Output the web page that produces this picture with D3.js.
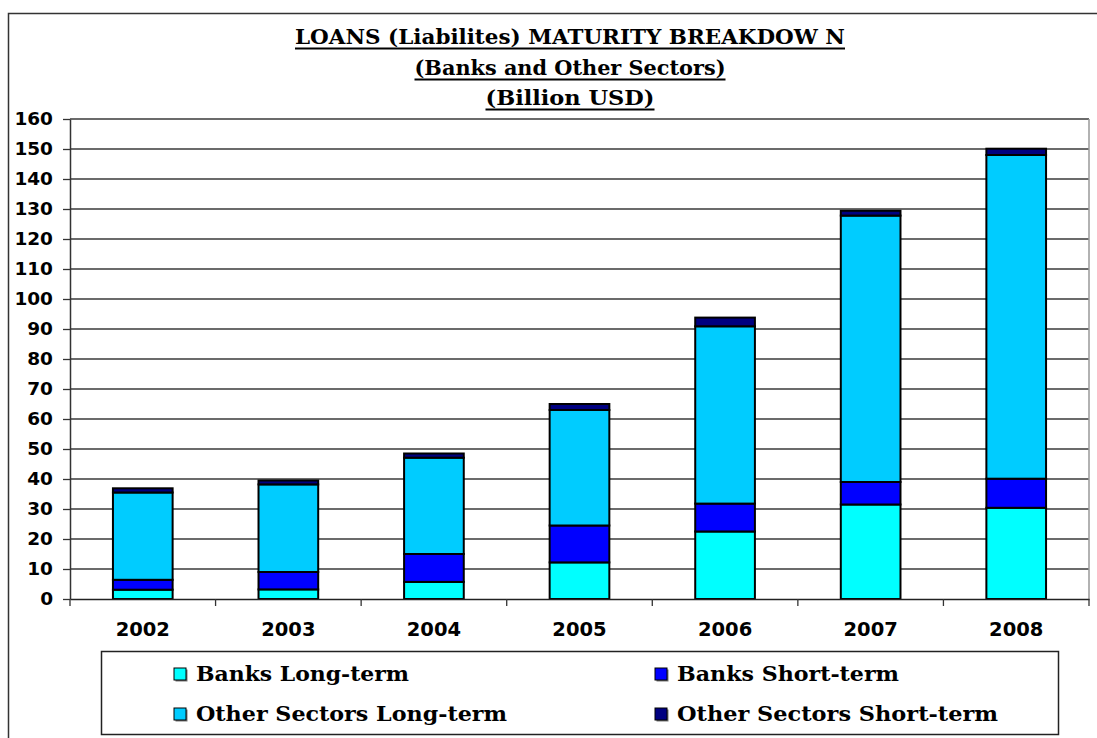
<!DOCTYPE html>
<html>
<head>
<meta charset="utf-8">
<script src="https://cdn.jsdelivr.net/npm/d3@7/dist/d3.min.js"></script>
<style>
  html, body { margin: 0; padding: 0; background: #fff; }
  svg { display: block; }
</style>
</head>
<body>
<svg id="chart" width="1097" height="738"></svg>
<script>
// Loan liabilities by maturity, billion USD
const years = ["2002", "2003", "2004", "2005", "2006", "2007", "2008"];
const banksLongTerm = [3.1, 3.2, 5.7, 12.2, 22.5, 31.5, 30.4];
const banksShortTerm = [3.3, 5.8, 9.3, 12.3, 9.3, 7.5, 9.7];
const otherLongTerm = [29.1, 29.2, 32.1, 38.5, 59.1, 88.8, 107.9];
const otherShortTerm = [1.4, 1.3, 1.4, 2.0, 2.9, 1.6, 2.1];
const seriesNames = ["Banks Long-term", "Banks Short-term", "Other Sectors Long-term", "Other Sectors Short-term"];
const seriesColors = ["#00FFFF", "#0000FF", "#00CCFF", "#000080"];
const yTicks = [0, 10, 20, 30, 40, 50, 60, 70, 80, 90, 100, 110, 120, 130, 140, 150, 160];
const titleLines = ["LOANS (Liabilites) MATURITY BREAKDOW N", "(Banks and Other Sectors)", "(Billion USD)"];

const svg = d3.select("#chart");

// outer chart frame
svg.append("rect")
  .attr("x", 8.5).attr("y", 13.5).attr("width", 1200).attr("height", 800)
  .attr("fill", "#fff").attr("stroke", "#333").attr("stroke-width", 1.5);

const plot = { left: 70, right: 1089, top: 119, bottom: 599 };

const x = d3.scaleBand().domain(years)
  .range([plot.left, plot.right])
  .paddingInner(0.59).paddingOuter(0.295);
const y = d3.scaleLinear().domain([0, 160]).range([plot.bottom, plot.top]);

// gridlines
svg.append("g").selectAll("line").data(yTicks.slice(1)).join("line")
  .attr("x1", plot.left).attr("x2", plot.right)
  .attr("y1", d => y(d)).attr("y2", d => y(d))
  .attr("stroke", "#3a3a3a").attr("stroke-width", 1.4);

// right plot border
svg.append("line")
  .attr("x1", plot.right).attr("x2", plot.right)
  .attr("y1", plot.top).attr("y2", plot.bottom)
  .attr("stroke", "#999").attr("stroke-width", 1.5);

// stacked bars
const table = years.map((yr, i) => ({
  year: yr,
  [seriesNames[0]]: banksLongTerm[i],
  [seriesNames[1]]: banksShortTerm[i],
  [seriesNames[2]]: otherLongTerm[i],
  [seriesNames[3]]: otherShortTerm[i]
}));
const stacked = d3.stack().keys(seriesNames)(table);

svg.append("g").selectAll("g").data(stacked).join("g")
  .attr("fill", (d, i) => seriesColors[i])
  .selectAll("rect").data(d => d).join("rect")
  .attr("x", d => x(d.data.year))
  .attr("width", x.bandwidth())
  .attr("y", d => y(d[1]))
  .attr("height", d => y(d[0]) - y(d[1]))
  .attr("stroke", "#000").attr("stroke-width", 2);

// y axis
const yAxis = svg.append("g")
  .attr("transform", `translate(${plot.left},0)`)
  .call(d3.axisLeft(y).tickValues(yTicks).tickSize(7).tickPadding(10).tickSizeOuter(0));
yAxis.select(".domain").attr("stroke", "#333").attr("stroke-width", 1.5);
yAxis.selectAll(".tick line").attr("stroke", "#333").attr("stroke-width", 1.3);
yAxis.selectAll(".tick text")
  .attr("font-family", "DejaVu Sans").attr("font-weight", "bold")
  .attr("font-size", 18.5).attr("fill", "#000");

// x axis with ticks between categories
const xAxis = svg.append("g")
  .attr("transform", `translate(0,${plot.bottom})`)
  .call(d3.axisBottom(x).tickSize(0).tickPadding(23));
xAxis.select(".domain").attr("stroke", "#222").attr("stroke-width", 1.5);
xAxis.selectAll(".tick text")
  .attr("font-family", "DejaVu Sans").attr("font-weight", "bold")
  .attr("font-size", 19.5).attr("fill", "#000");
const step = x.step();
svg.append("g").selectAll("line").data(d3.range(8)).join("line")
  .attr("x1", d => plot.left + d * step).attr("x2", d => plot.left + d * step)
  .attr("y1", plot.bottom).attr("y2", plot.bottom + 7)
  .attr("stroke", "#333").attr("stroke-width", 1.3);

// title, underlined
const titleSpecs = [
  { base: 44, width: 550 },
  { base: 75, width: 311 },
  { base: 105, width: 169 }
];
const tg = svg.append("g");
titleLines.forEach((t, i) => {
  const s = titleSpecs[i];
  tg.append("text")
    .attr("x", 570).attr("y", s.base)
    .attr("text-anchor", "middle")
    .attr("font-family", "DejaVu Serif").attr("font-weight", "bold")
    .attr("font-size", 20)
    .attr("textLength", s.width).attr("lengthAdjust", "spacingAndGlyphs")
    .text(t);
  tg.append("line")
    .attr("x1", 570 - s.width / 2).attr("x2", 570 + s.width / 2)
    .attr("y1", s.base + 4.5).attr("y2", s.base + 4.5)
    .attr("stroke", "#000").attr("stroke-width", 1.8);
});

// legend
svg.append("rect")
  .attr("x", 101.5).attr("y", 651.5).attr("width", 957).attr("height", 83)
  .attr("fill", "#fff").attr("stroke", "#222").attr("stroke-width", 1.5);

const legendPos = [
  { sx: 174, ty: 681, tw: 213 },
  { sx: 655, ty: 681, tw: 222 },
  { sx: 174, ty: 721, tw: 311 },
  { sx: 655, ty: 721, tw: 321 }
];
const lg = svg.append("g");
seriesNames.forEach((name, i) => {
  const p = legendPos[i];
  lg.append("rect")
    .attr("x", p.sx + 1.5).attr("y", p.ty - 11.5).attr("width", 12).attr("height", 12)
    .attr("fill", "#777");
  lg.append("rect")
    .attr("x", p.sx).attr("y", p.ty - 13).attr("width", 12).attr("height", 12)
    .attr("fill", seriesColors[i]).attr("stroke", "#000").attr("stroke-width", 1);
  lg.append("text")
    .attr("x", p.sx + 22).attr("y", p.ty)
    .attr("font-family", "DejaVu Serif").attr("font-weight", "bold")
    .attr("font-size", 21)
    .attr("textLength", p.tw).attr("lengthAdjust", "spacingAndGlyphs")
    .text(name);
});
</script>
</body>
</html>
